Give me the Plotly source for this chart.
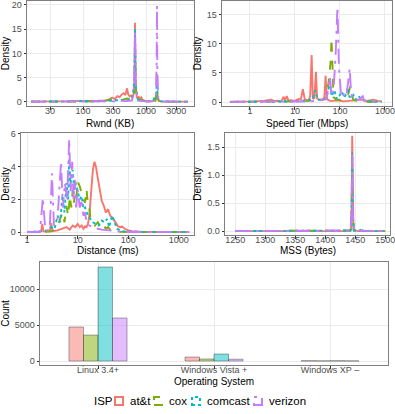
import plotly.graph_objects as go

W, H = 395, 414
FONT = "Liberation Sans, Arial, sans-serif"

isps = ["at&t", "cox", "comcast", "verizon"]
colors = {"at&t": "#F8766D", "cox": "#7CAE00", "comcast": "#00BFC4", "verizon": "#C77CFF"}
fills = {"at&t": "rgba(248,118,109,0.5)", "cox": "rgba(124,174,0,0.5)",
         "comcast": "rgba(0,191,196,0.5)", "verizon": "rgba(199,124,255,0.5)"}
dashes = {"at&t": "solid", "cox": "dash", "comcast": "dot", "verizon": "longdashdot"}

# ---------------- Rwnd (KB) densities ----------------
rwnd_att_x = [15, 25, 40, 60, 90, 130, 180, 230, 260, 290, 320, 350, 380, 410, 440, 470, 500, 520, 550, 580,
              610, 640, 655, 668, 685, 710, 740, 770, 800, 840, 880, 930, 1000, 1100, 1250, 1400, 1490, 1600,
              1800, 2500, 3500, 4600]
rwnd_att_y = [0.1, 0.05, 0.15, 0.1, 0.2, 0.15, 0.25, 0.3, 0.5, 0.9, 0.6, 1.2, 1.0, 1.5, 1.8, 1.4, 2.8, 1.6, 1.1, 1.3,
              0.9, 1.8, 5.0, 16.3, 4.0, 1.0, 0.7, 1.1, 0.6, 0.9, 0.4, 0.3, 0.1, 0.15, 0.1, 0.3, 0.9, 0.2,
              0.05, 0.05, 0.05, 0.05]
rwnd_cox_x = [15, 40, 100, 200, 280, 350, 420, 500, 580, 640, 655, 668, 685, 720, 800, 900, 1100, 1300, 1400, 1460,
              1490, 1520, 1600, 2000, 3000, 4600]
rwnd_cox_y = [0.05, 0.1, 0.05, 0.1, 0.5, 0.6, 0.4, 0.7, 0.5, 0.8, 3.0, 12.0, 2.0, 0.3, 0.5, 0.2, 0.1, 0.6, 0.3, 2.0,
              6.6, 1.0, 0.2, 0.05, 0.02, 0.02]
rwnd_comcast_x = [15, 40, 100, 200, 300, 400, 500, 600, 650, 668, 685, 750, 900, 1100, 1300, 1450, 1490, 1530, 1700,
                  2500, 4600]
rwnd_comcast_y = [0.05, 0.05, 0.1, 0.15, 0.3, 0.4, 0.3, 0.6, 4.0, 15.0, 3.0, 0.3, 0.2, 0.1, 0.4, 1.5, 5.0, 0.5, 0.1,
                  0.02, 0.02]
rwnd_verizon_x = [15, 40, 100, 200, 300, 400, 500, 600, 650, 668, 685, 750, 900, 1100, 1300, 1430, 1470, 1490, 1510,
                  1560, 1700, 2500, 4600]
rwnd_verizon_y = [0.02, 0.02, 0.05, 0.05, 0.1, 0.2, 0.15, 0.3, 3.5, 14.5, 2.5, 0.2, 0.1, 0.05, 0.2, 1.0, 8.0, 19.8,
                  6.0, 0.8, 0.1, 0.02, 0.02]

# ---------------- Speed Tier (Mbps) densities ----------------
speed_att_x = [0.36, 0.7, 1.2, 2, 3, 3.5, 4, 5, 5.6, 6, 6.6, 7.2, 8, 10, 12, 13.5, 15, 16.5, 18, 20,
               21.8, 23.5, 25, 27, 29.3, 31, 35, 40, 45, 48, 51, 55, 60, 70, 90, 120, 160, 200, 300, 400,
               550, 700, 850]
speed_att_y = [0.05, 0.05, 0.1, 0.2, 0.4, 0.1, 0.2, 0.1, 0.9, 0.3, 1.0, 0.2, 0.3, 0.2, 0.5, 0.4, 2.2, 0.5, 0.3, 0.2,
               1.0, 8.1, 0.5, 0.7, 5.2, 0.6, 0.4, 0.3, 0.8, 4.5, 0.5, 0.3, 0.2, 0.2, 0.3, 0.1, 0.2, 0.3, 0.4, 0.2,
               0.4, 0.2, 0.1]
speed_cox_x = [0.36, 1, 3, 10, 20, 30, 40, 50, 57, 62, 65, 68, 72, 80, 100, 120, 140, 155, 170, 185,
               200, 250, 300, 400, 600, 850]
speed_cox_y = [0.02, 0.02, 0.05, 0.1, 0.2, 0.5, 0.4, 0.6, 4.0, 7.0, 11.0, 5.0, 0.8, 0.5, 0.3, 0.5, 0.8, 1.5, 2.7, 1.0,
               0.3, 0.2, 0.1, 0.05, 0.05, 0.02]
speed_comcast_x = [0.36, 1, 3, 10, 20, 25, 28, 32, 40, 50, 60, 65, 75, 85, 100, 110, 125, 140, 150, 160,
                   180, 200, 230, 260, 300, 350, 450, 600, 850]
speed_comcast_y = [0.02, 0.02, 0.05, 0.1, 0.3, 0.5, 2.0, 0.4, 0.3, 0.6, 3.5, 1.0, 2.0, 0.5, 1.2, 1.8, 0.8, 1.5, 2.5,
                   1.0, 0.6, 1.2, 0.4, 1.0, 0.3, 0.2, 0.1, 0.05, 0.02]
speed_verizon_x = [0.36, 1, 3, 10, 20, 30, 40, 50, 55, 60, 65, 72, 80, 88, 95, 105, 115, 125, 140, 155,
                   165, 175, 190, 220, 260, 300, 320, 340, 400, 600, 850]
speed_verizon_y = [0.02, 0.02, 0.02, 0.05, 0.1, 0.2, 0.3, 0.5, 2.5, 4.3, 1.0, 2.0, 8.0, 16.4, 6.0, 1.5, 2.0, 0.8, 1.2,
                   4.0, 5.8, 2.0, 0.5, 0.3, 0.4, 0.8, 1.0, 0.3, 0.1, 0.05, 0.02]

# ---------------- Distance (ms) densities ----------------
dist_att_x = [1, 1.5, 1.9, 2, 2.1, 2.8, 3, 3.2, 4, 5, 6, 7, 8, 9, 10, 11, 12, 13, 14, 15,
              16, 17, 18, 19, 20, 21.5, 23, 25, 27, 30, 33, 36, 40, 44, 48, 53, 58, 63, 70, 75,
              85, 100, 120, 150, 200, 400, 800, 1600]
dist_att_y = [0, 0, 0.05, 0.5, 0.05, 0.05, 0.55, 0.05, 0.1, 0.2, 0.3, 0.15, 0.4, 0.3, 0.5, 0.3, 0.4, 0.2, 0.35, 0.3,
              0.5, 1.0, 2.0, 3.0, 3.8, 4.3, 4.0, 3.3, 2.8, 1.9, 1.6, 1.2, 1.4, 1.0, 0.9, 0.7, 0.5, 0.35, 0.3, 0.35,
              0.2, 0.1, 0.05, 0.02, 0.01, 0, 0, 0]
dist_cox_x = [1, 2, 3, 4, 4.5, 5, 5.5, 6, 6.5, 7, 7.5, 8, 8.5, 9, 9.5, 10, 11, 12, 13, 14,
              15, 16, 17, 18, 20, 22, 25, 28, 32, 36, 40, 45, 55, 70, 100, 200, 500, 1600]
dist_cox_y = [0, 0, 0.05, 0.3, 0.8, 1.2, 0.6, 1.6, 1.0, 2.2, 1.5, 2.6, 1.8, 3.1, 2.2, 3.1, 2.8, 2.3, 2.0, 1.8,
              2.6, 1.6, 1.5, 0.8, 0.7, 0.4, 0.6, 0.3, 0.5, 0.2, 0.3, 0.1, 0.05, 0.02, 0, 0, 0, 0]
dist_comcast_x = [1, 2, 2.5, 3, 3.5, 4, 4.5, 5, 5.5, 6, 6.5, 6.8, 7.2, 7.6, 8, 8.5, 9, 10, 11, 12,
                  13, 14, 16, 18, 20, 23, 26, 30, 34, 38, 42, 48, 60, 80, 120, 300, 1600]
dist_comcast_y = [0, 0.05, 0.1, 0.3, 0.2, 1.0, 0.6, 2.2, 1.2, 3.0, 2.0, 4.5, 2.8, 3.6, 3.8, 2.5, 3.0, 2.5, 2.0, 2.2,
                  1.4, 1.5, 1.0, 0.8, 0.6, 0.5, 0.4, 0.7, 0.6, 0.8, 0.3, 1.0, 0.2, 0.05, 0.02, 0, 0]
dist_verizon_x = [1, 1.8, 2.05, 2.3, 2.8, 3.1, 3.4, 4.0, 4.7, 5.1, 5.6, 6.2, 6.8, 7.3, 7.8, 8.3, 8.8, 9.3, 10, 11,
                  12, 13, 14, 15, 17, 20, 25, 30, 40, 60, 100, 1600]
dist_verizon_y = [0, 0, 2.1, 0.1, 0.1, 3.6, 0.4, 0.8, 4.3, 1.5, 3.0, 2.0, 5.7, 2.5, 4.3, 2.0, 3.2, 1.5, 2.6, 1.5,
                  2.0, 1.0, 1.2, 0.6, 0.4, 0.3, 0.2, 0.15, 0.1, 0.05, 0, 0]

# ---------------- MSS (Bytes) densities ----------------
mss_att_x = [1250, 1300, 1350, 1400, 1440, 1443, 1444, 1445, 1446, 1447, 1455, 1500]
mss_att_y = [0, 0, 0, 0, 0, 0.02, 0.4, 1.7, 0.4, 0.02, 0, 0]
mss_cox_x = [1250, 1400, 1442, 1444, 1445, 1446, 1448, 1457, 1460, 1463, 1500]
mss_cox_y = [0, 0, 0.01, 0.3, 1.3, 0.3, 0.01, 0, 0.05, 0, 0]
mss_comcast_x = [1250, 1400, 1442, 1444, 1445, 1446, 1448, 1457, 1460, 1463, 1500]
mss_comcast_y = [0, 0, 0.01, 0.3, 1.4, 0.3, 0.01, 0, 0.04, 0, 0]
mss_verizon_x = [1250, 1400, 1442, 1444, 1445, 1446, 1448, 1500]
mss_verizon_y = [0, 0, 0.01, 0.3, 1.35, 0.3, 0.01, 0]

# ---------------- Operating system counts ----------------
os_categories = ["Linux 3.4+", "Windows Vista +", "Windows XP –"]
os_att = [4720, 550, 30]
os_cox = [3600, 280, 12]
os_comcast = [13050, 970, 25]
os_verizon = [5970, 250, 10]

panels = [
    ("x", "y", {"at&t": (rwnd_att_x, rwnd_att_y), "cox": (rwnd_cox_x, rwnd_cox_y),
                "comcast": (rwnd_comcast_x, rwnd_comcast_y), "verizon": (rwnd_verizon_x, rwnd_verizon_y)}),
    ("x2", "y2", {"at&t": (speed_att_x, speed_att_y), "cox": (speed_cox_x, speed_cox_y),
                  "comcast": (speed_comcast_x, speed_comcast_y), "verizon": (speed_verizon_x, speed_verizon_y)}),
    ("x3", "y3", {"at&t": (dist_att_x, dist_att_y), "cox": (dist_cox_x, dist_cox_y),
                  "comcast": (dist_comcast_x, dist_comcast_y), "verizon": (dist_verizon_x, dist_verizon_y)}),
    ("x4", "y4", {"at&t": (mss_att_x, mss_att_y), "cox": (mss_cox_x, mss_cox_y),
                  "comcast": (mss_comcast_x, mss_comcast_y), "verizon": (mss_verizon_x, mss_verizon_y)}),
]

fig = go.Figure()
for pi, (xa, ya, data) in enumerate(panels):
    for isp in isps:
        xs, ys = data[isp]
        fig.add_trace(go.Scatter(
            x=xs, y=ys, mode="lines", xaxis=xa, yaxis=ya, name=isp, showlegend=False,
            line=dict(color=colors[isp], dash=dashes[isp], width=1.9),
        ))

bar_vals = {"at&t": os_att, "cox": os_cox, "comcast": os_comcast, "verizon": os_verizon}
for isp in isps:
    fig.add_trace(go.Bar(
        x=os_categories, y=bar_vals[isp], xaxis="x5", yaxis="y5", name=isp,
        showlegend=False, marker=dict(color=fills[isp], line=dict(color="rgba(60,60,60,0.55)", width=0.8)),
    ))


def px(a, b):
    return [a / W, b / W]


def py(top, bottom):
    return [1 - bottom / H, 1 - top / H]


tickfont = dict(family=FONT, size=9, color="#4D4D4D")
titlefont = dict(family=FONT, size=10, color="#000000")
common = dict(showline=True, mirror=True, linecolor="#7F7F7F", linewidth=1, gridcolor="#EBEBEB",
              gridwidth=1, zeroline=False, ticks="outside", ticklen=2.5, tickcolor="#333333",
              tickfont=tickfont, automargin=False, ticklabeloverflow="allow")
xcommon = dict(common, ticklabelstandoff=-6)

annotations = []
# ---- x-axis titles as annotations (centre x, centre y in px) ----
xtitles = [("Rwnd (KB)", 110, 123), ("Speed Tier (Mbps)", 307, 123),
           ("Distance (ms)", 107.5, 250), ("MSS (Bytes)", 307.5, 250),
           ("Operating System", 214, 381)]
for t, cx, cy in xtitles:
    annotations.append(dict(text=t, x=cx / W, y=1 - cy / H, xref="paper", yref="paper",
                            xanchor="center", yanchor="middle", showarrow=False, font=titlefont))

# ---- manual legend (ISP) ----
legend_font = dict(family=FONT, size=11.5, color="#000000")
legend_y = 401
key_left = [115, 154, 192, 254]
annotations.append(dict(text="ISP", x=92 / W, y=1 - legend_y / H, xref="paper", yref="paper",
                        xanchor="left", yanchor="middle", showarrow=False, font=legend_font))
shapes = []
for isp, kl in zip(isps, key_left):
    shapes.append(dict(type="rect", xref="paper", yref="paper",
                       x0=kl / W, x1=(kl + 8) / W, y0=1 - (legend_y + 4) / H, y1=1 - (legend_y - 4) / H,
                       line=dict(color=colors[isp], width=2, dash=dashes[isp]), fillcolor="white"))
    annotations.append(dict(text=isp, x=(kl + 13) / W, y=1 - legend_y / H, xref="paper", yref="paper",
                            xanchor="left", yanchor="middle", showarrow=False, font=legend_font))

fig.update_layout(
    width=W, height=H, margin=dict(l=0, r=0, t=0, b=0, autoexpand=False),
    paper_bgcolor="white", plot_bgcolor="white",
    font=dict(family=FONT), showlegend=False,
    barmode="group", bargap=0.5, bargroupgap=0,
    annotations=annotations, shapes=shapes,
    xaxis=dict(domain=px(27, 194), type="log", range=[1.112, 3.76], anchor="y",
               tickvals=[30, 100, 300, 1000, 3000], ticktext=["30", "100", "300", "1000", "3000"], **xcommon),
    yaxis=dict(domain=py(1, 106), range=[-0.85, 20.8], anchor="x", tickvals=[0, 5, 10, 15, 20],
               title=dict(text="Density", font=titlefont, standoff=3), **common),
    xaxis2=dict(domain=px(222, 392), type="log", range=[-0.62, 3.156], anchor="y2",
                tickvals=[1, 10, 100, 1000], ticktext=["1", "10", "100", "1000"], **xcommon),
    yaxis2=dict(domain=py(1, 106), range=[-0.69, 17.4], anchor="x2", tickvals=[0, 5, 10, 15],
                title=dict(text="Density", font=titlefont, standoff=3), **common),
    xaxis3=dict(domain=px(21, 194), type="log", range=[-0.12, 3.3], anchor="y3",
                tickvals=[1, 10, 100, 1000], ticktext=["1", "10", "100", "1000"], **xcommon),
    yaxis3=dict(domain=py(133, 235), range=[-0.18, 6.06], anchor="x3", tickvals=[0, 2, 4, 6],
                title=dict(text="Density", font=titlefont, standoff=3), **common),
    xaxis4=dict(domain=px(225, 390), range=[1233, 1508], anchor="y4",
                tickvals=[1250, 1300, 1350, 1400, 1450, 1500], **xcommon),
    yaxis4=dict(domain=py(133, 235), range=[-0.07, 1.75], anchor="x4", tickvals=[0, 0.5, 1.0, 1.5],
                tickformat=".1f",
                title=dict(text="Density", font=titlefont, standoff=3), **common),
    xaxis5=dict(domain=px(40, 388), anchor="y5", categoryorder="array", categoryarray=os_categories, **xcommon),
    yaxis5=dict(domain=py(262, 365), range=[-555, 13750], anchor="x5", tickvals=[0, 5000, 10000],
                ticktext=["0", "5000", "10000"],
                title=dict(text="Count", font=titlefont, standoff=3), **common),
)

fig.write_html("out.html", config={"displayModeBar": False},
               post_script="document.body.style.margin='0px';")
